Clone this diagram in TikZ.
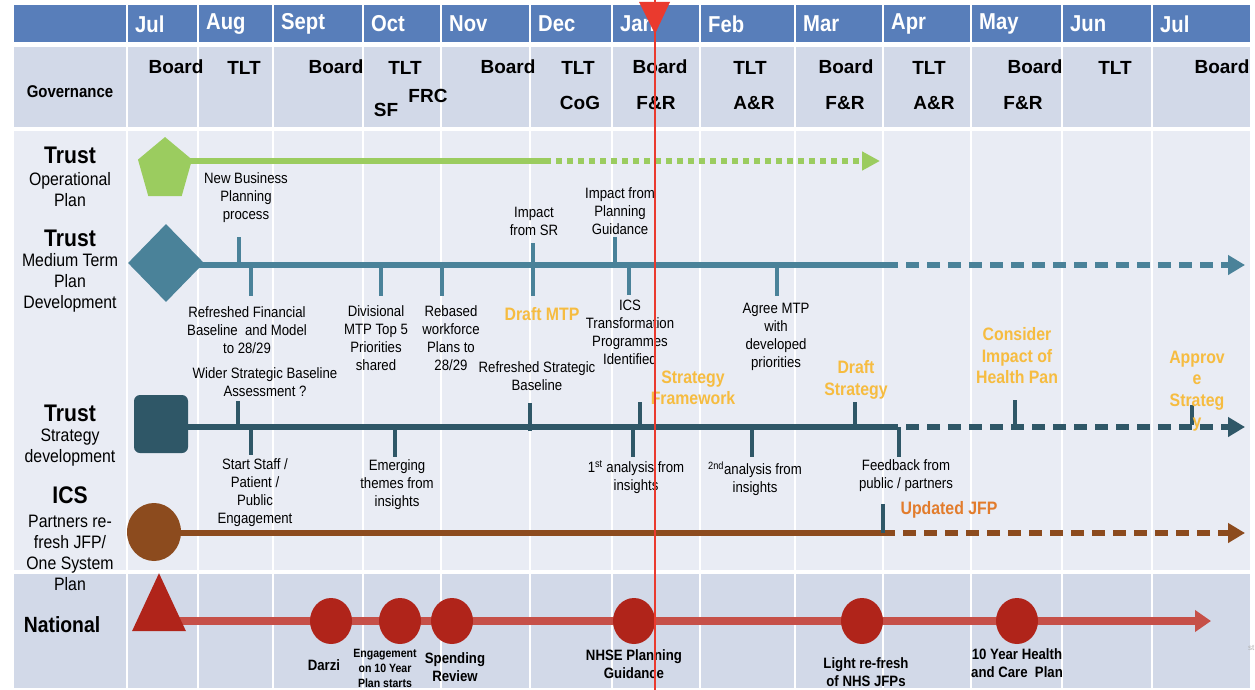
\documentclass[tikz,border=0pt]{standalone}
\usepackage{fontspec}
\setmainfont{Liberation Sans}
\newfontfamily\narrowfont[FakeStretch=0.88]{Liberation Sans}
\usetikzlibrary{shapes.geometric,arrows.meta}
\pgfdeclarelayer{background}
\pgfsetlayers{background,main}

\definecolor{headblue}{RGB}{88,126,186}
\definecolor{govgrey}{RGB}{210,217,232}
\definecolor{bodybg}{RGB}{233,236,244}
\definecolor{opgreen}{RGB}{155,204,95}
\definecolor{mtpteal}{RGB}{74,130,153}
\definecolor{strteal}{RGB}{47,87,103}
\definecolor{icsbrown}{RGB}{140,75,30}
\definecolor{natred}{RGB}{176,36,26}
\definecolor{natline}{RGB}{198,80,72}
\definecolor{amber}{RGB}{246,188,64}
\definecolor{jfporange}{RGB}{226,124,44}
\definecolor{todayred}{RGB}{234,58,46}

\begin{document}
\begin{tikzpicture}[x=1pt, y=-1pt,
  month/.style={anchor=west, inner sep=0, text=white, font=\narrowfont\bfseries\fontsize{23}{26}\selectfont},
  gov/.style={inner sep=0, font=\bfseries\fontsize{19}{22}\selectfont},
  rowhead/.style={inner sep=0, font=\narrowfont\bfseries\fontsize{24}{26}\selectfont},
  rowsub/.style={align=center, inner sep=0, font=\narrowfont\fontsize{18}{21}\selectfont},
  lbl/.style={align=center, inner sep=0, font=\narrowfont\fontsize{15}{18}\selectfont},
  hot/.style={align=center, inner sep=0, text=amber, font=\narrowfont\bfseries\fontsize{18}{21.5}\selectfont},
  natlbl/.style={align=center, inner sep=0, font=\narrowfont\bfseries\fontsize{15}{18}\selectfont},
  tl/.style={line width=6pt},
  tldash/.style={line width=6pt, dash pattern=on 13pt off 8pt, -{Triangle[length=17pt,width=19pt]}},
  tick/.style={line width=4pt},
  natdot/.style={ellipse, fill=natred, minimum width=42pt, minimum height=46pt, inner sep=0}]
\useasboundingbox (0,0) rectangle (1255,690);

% table
\begin{pgfonlayer}{background}
\fill[headblue] (14,5) rectangle (1250,42);
\fill[govgrey] (14,47) rectangle (1250,127);
\fill[bodybg] (14,131) rectangle (1250,570);
\fill[govgrey] (14,574) rectangle (1250,688);
\foreach \x in {127,198,273,363,441,530,612,700,795,883,971,1062,1152}
  \draw[white, line width=2pt] (\x,5) -- (\x,688);
\end{pgfonlayer}

\foreach \x/\m [count=\i] in {127/Jul,198/Aug,273/Sept,363/Oct,441/Nov,530/Dec,612/Jan,700/Feb,795/Mar,883/Apr,971/May,1062/Jun,1152/Jul}
  \node[month] (m\i) at (\x+8,24) {\m};

% governance
\node[gov, font=\narrowfont\bfseries\fontsize{17}{20}\selectfont] (govhead) at (70,92) {Governance};
\foreach \x/\y/\t [count=\i] in {176/67/Board, 244/68/TLT, 336/67/Board, 405/68/TLT, 386/110/SF, 428/96/FRC,
    508/67/Board, 578/68/TLT, 580/103/CoG, 660/67/Board, 656/103/F\&R, 750/68/TLT, 754/103/A\&R,
    846/67/Board, 845/103/F\&R, 929/68/TLT, 934/103/A\&R, 1035/67/Board, 1023/103/F\&R, 1115/68/TLT, 1222/67/Board}
  \node[gov] (g\i) at (\x,\y) {\t};

% row titles
\node[rowhead] (trust1) at (70,155) {Trust};
\node[rowsub] (opl) at (70,190) {Operational\\Plan};
\node[rowhead] (trust2) at (70,238) {Trust};
\node[rowsub] (mtpl) at (70,283) {Medium Term\\Plan\\Development};
\node[rowhead] (trust3) at (70,413) {Trust};
\node[rowsub] (strl) at (70,448) {Strategy\\development};
\node[rowhead] (icsh) at (70,495) {ICS};
\node[rowsub] (icsl) at (70,553) {Partners re-\\fresh JFP/\\One System\\Plan};
\node[rowhead, font=\narrowfont\bfseries\fontsize{22}{24}\selectfont] (nath) at (62,625) {National};

% start shapes
\begin{scope}[shift={(165,169.7)}]
\node[regular polygon, regular polygon sides=5, minimum size=56.8pt, inner sep=0, fill=opgreen, yscale=1.15, transform shape] (oplan) at (0,0) {};
\end{scope}
\node[diamond, fill=mtpteal, minimum width=76pt, minimum height=78pt, inner sep=0] (mtp) at (166,263) {};
\node[rectangle, rounded corners=6pt, fill=strteal, minimum width=54pt, minimum height=58pt, inner sep=0] (strat) at (161,424) {};
\node[ellipse, fill=icsbrown, minimum width=54pt, minimum height=58pt, inner sep=0] (ics) at (154,532) {};
\node[isosceles triangle, isosceles triangle stretches, shape border rotate=90, minimum width=54pt, minimum height=58pt, inner sep=0, fill=natred] (natl) at (159,614) {};

% national milestones
\foreach \x [count=\i] in {331,400,452,634,862,1017}
  \node[natdot] (nd\i) at (\x,621) {};

% timelines
\begin{pgfonlayer}{background}
\coordinate (opbrk) at (545,161);
\coordinate (opend) at (880,161);
\coordinate (mtpbrk) at (885,265);
\coordinate (mtpend) at (1245,265);
\coordinate (strbrk) at (885,427);
\coordinate (strend) at (1245,427);
\coordinate (icsbrk) at (882,533);
\coordinate (icsend) at (1245,533);
\coordinate (natend) at (1211,621);
\draw[tl, opgreen] (oplan |- opbrk) -- (opbrk);
\draw[tl, opgreen, dash pattern=on 6pt off 5pt, -{Triangle[length=18pt,width=18pt]}] (opbrk) -- (opend);
\draw[tl, mtpteal] (mtp |- mtpbrk) -- (mtpbrk);
\draw[tldash, mtpteal] (mtpbrk) -- (mtpend);
\draw[tl, strteal] (strat |- strbrk) -- (strbrk);
\draw[tldash, strteal] (strbrk) -- (strend);
\draw[tl, icsbrown] (ics |- icsbrk) -- (icsbrk);
\draw[tldash, icsbrown] (icsbrk) -- (icsend);
\draw[natline, line width=8pt, -{Triangle[length=16pt,width=21pt]}] (natl |- natend) -- (natend);
\end{pgfonlayer}

% ticks
\foreach \x/\a/\b in {239/237/265, 251/265/296, 381/265/296, 442/265/296, 533/243/296, 615/237/265, 629/265/295, 777/265/296}
  \draw[tick, mtpteal] (\x,\a) -- (\x,\b);
\foreach \x/\a/\b in {238/401/427, 251/427/455, 395/427/457, 530/403/431, 640/402/427, 633/427/457, 752/427/457,
    855/402/427, 899/427/457, 1015/400/427, 1192/405/425, 883/504/533}
  \draw[tick, strteal] (\x,\a) -- (\x,\b);

% medium term plan labels
\node[lbl] (nbp) at (246,198) {New Business\\Planning\\process};
\node[lbl] (isr) at (534,221) {Impact\\from SR};
\node[lbl] (ipg) at (620,211) {Impact from\\Planning\\Guidance};
\node[lbl] (rfb) at (247,330) {Refreshed Financial\\Baseline\ \ and Model\\to 28/29};
\node[lbl] (dmt) at (376,338) {Divisional\\MTP Top 5\\Priorities\\shared};
\node[lbl] (rwp) at (451,338) {Rebased\\workforce\\Plans to\\28/29};
\node[hot] (dmtp) at (542,314) {Draft MTP};
\node[lbl] (icsp) at (630,332) {ICS\\Transformation\\Programmes\\Identified};
\node[lbl] (amtp) at (776,337) {Agree MTP\\with\\developed\\priorities};

% strategy labels
\node[lbl] (wsb) at (265,382) {Wider Strategic Baseline\\Assessment ?};
\node[lbl] (rsb) at (537,376) {Refreshed Strategic\\Baseline};
\node[hot] (sfw) at (693,388) {Strategy\\Framework};
\node[hot] (dst) at (856,380) {Draft\\Strategy};
\node[hot] (cih) at (1017,356) {Consider\\Impact of\\Health Pan};
\node[hot] (apv) at (1197,391) {Approv\\e\\Strateg\\y};
\node[lbl] (sspe) at (255,493) {Start Staff /\\Patient /\\Public\\Engagement};
\node[lbl] (emt) at (397,485) {Emerging\\themes from\\insights};
\node[lbl] (fst) at (636,477) {1\textsuperscript{st} analysis from\\insights};
\node[lbl] (snd) at (755,479) {\textsuperscript{2nd}analysis from\\insights};
\node[lbl] (fbk) at (906,476) {Feedback from\\public / partners};
\node[hot, text=jfporange] (ujfp) at (949,510) {Updated JFP};

% national labels
\node[natlbl] (darzi) at (324,665) {Darzi};
\node[natlbl, font=\narrowfont\bfseries\fontsize{12}{15}\selectfont] (eng) at (385,668) {Engagement\\on 10 Year\\Plan starts};
\node[natlbl] (spr) at (455,667) {Spending\\Review};
\node[natlbl] (nhse) at (634,664) {NHSE Planning\\Guidance};
\node[natlbl] (lrf) at (866,672) {Light re-fresh\\of NHS JFPs};
\node[natlbl] (tyh) at (1017,663) {10 Year Health\\and Care\ \ Plan};
\node[anchor=west, inner sep=0, text=gray!60, font=\fontsize{8}{9}\selectfont] (stub) at (1248,648) {st};

% today marker
\coordinate (nowtop) at (655,0);
\coordinate (nowbot) at (655,690);
\draw[todayred, line width=1.3pt] (nowtop) -- (nowbot);
\fill[todayred] (639,2) -- (670,2) -- (655,34) -- cycle;
\end{tikzpicture}
\end{document}
